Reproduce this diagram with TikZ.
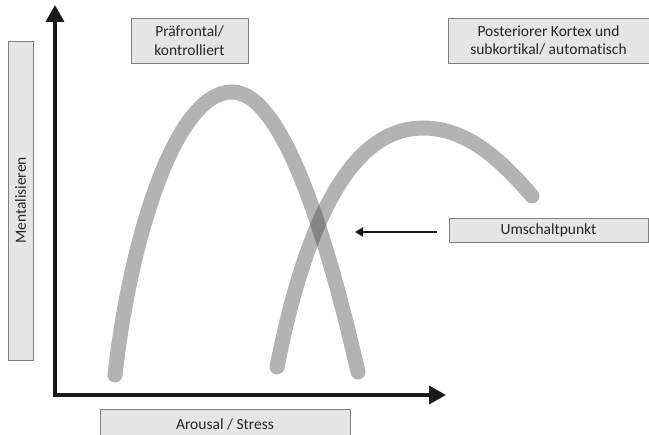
\documentclass[tikz,border=0pt]{standalone}
\usepackage{fontspec}
\setmainfont[Ligatures=NoCommon]{Carlito}
\usetikzlibrary{arrows.meta}
\tikzset{
  label box/.style={draw=black!50, line width=0.9pt, fill=black!10, inner sep=0pt,
    font=\fontsize{15.5}{18.5}\selectfont, text=black!85, align=center},
  axis/.style={line width=3.6pt, black!90, -{Triangle[length=17pt,width=18pt]}},
  curve/.style={line width=15pt, line cap=round, draw=black!75, draw opacity=0.4},
  pointer/.style={line width=2.8pt, black!90, -{Triangle[length=8pt,width=9pt]}}
}
\begin{document}
\begin{tikzpicture}[x=1pt,y=-1pt]
\useasboundingbox (0,0) rectangle (649,435);

% label boxes
\node[label box, minimum width=319pt, minimum height=25pt, rotate=90] (ment) at (20.5,200.5) {Mentalisieren};
\node[label box, minimum width=117pt, minimum height=45pt] (pre) at (189.5,40.5) {Präfrontal/\\kontrolliert};
\node[label box, minimum width=201pt, minimum height=45pt] (post) at (548.5,40.5) {Posteriorer Kortex und\\subkortikal/ automatisch};
\node[label box, minimum width=199pt, minimum height=24pt] (umsch) at (548.5,230) {Umschaltpunkt};
\node[label box, minimum width=250pt, minimum height=30pt] (arous) at (225,424) {Arousal / Stress};

% axes
\coordinate (origin) at (55,395);
\coordinate (ytop) at (55,5);
\coordinate (xend) at (446,395);
\draw[axis] ([yshift=1.8pt]origin) -- (ytop);
\draw[axis] ([xshift=-1.8pt]origin) -- (xend);

% prefrontal curve
\coordinate (a0) at (115,375);
\coordinate (a1) at (232,92);
\coordinate (a2) at (358,372);
\draw[curve] (a0) .. controls (130,240) and (175,92) .. (a1)
                  .. controls (285,92) and (330,250) .. (a2);

% posterior/subcortical curve
\coordinate (b0) at (277,367);
\coordinate (b1) at (423,128);
\coordinate (b2) at (532,196);
\draw[curve] (b0) .. controls (310,200) and (360,128) .. (b1)
                  .. controls (470,128) and (505,165) .. (b2);

% switching point marker
\coordinate (tip) at (355,228);
\draw[pointer] (umsch.west) ++(-12pt,-2pt) coordinate (ptail) -- (tip |- ptail);
\end{tikzpicture}
\end{document}
